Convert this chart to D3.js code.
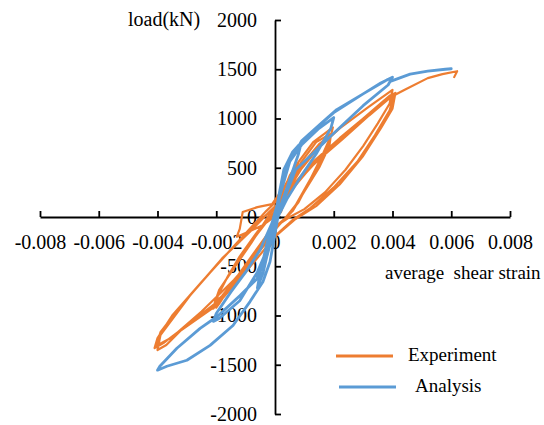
<!DOCTYPE html>
<html>
<head>
<meta charset="utf-8">
<script src="https://cdn.jsdelivr.net/npm/d3@7"></script>
<style>
  html, body { margin: 0; padding: 0; background: #fff; }
  svg text { font-family: "Liberation Serif", "Times New Roman", serif; fill: #000; }
</style>
</head>
<body>
<svg id="chart" width="544" height="425"></svg>
<script>
// Series names and colours
const seriesNames = ["Experiment", "Analysis"];
const seriesColors = ["#ED7D31", "#5B9BD5"];

// Axis ticks
const xTicks = [-0.008, -0.006, -0.004, -0.002, 0, 0.002, 0.004, 0.006, 0.008];
const yTicks = [-2000, -1500, -1000, -500, 0, 500, 1000, 1500, 2000];

// Experiment: load path [average shear strain, load kN]
const experimentCurve = [
  [0, 0], [0.0002, 200], [0.0005, 420], [0.0008, 560], [0.0007, 480], [0.0004, 230],
  [0.0002, 50], [-0.0004, -80], [-0.0009, -150], [-0.0013, -200], [-0.0012, -120],
  [-0.0011, 50], [-0.0006, 100], [-0.0001, 130],
  [0.0003, 300], [0.0008, 560], [0.0013, 760], [0.0017, 850], [0.00197, 910],
  [0.0019, 820], [0.0016, 620], [0.0012, 380], [0.0008, 150], [0.0004, 0],
  [-0.0002, -150], [-0.0008, -400], [-0.0014, -650], [-0.0019, -880], [-0.002, -920],
  [-0.00195, -800], [-0.0016, -600], [-0.0012, -400], [-0.0006, -150], [0, 50],
  [0.0004, 280], [0.0009, 560], [0.0014, 760], [0.00187, 840], [0.0018, 740],
  [0.0015, 540], [0.0011, 330], [0.0007, 120], [0.0003, -30], [-0.0003, -220],
  [-0.001, -520], [-0.0016, -760], [-0.0021, -930], [-0.0020, -820], [-0.0017, -650],
  [-0.0012, -420], [-0.0006, -170], [0, 60],
  [0.0005, 320], [0.001, 560], [0.0015, 740], [0.0019, 830], [0.00185, 720],
  [0.0015, 500], [0.001, 260], [0.0006, 60], [0.0002, -60], [-0.0005, -300],
  [-0.0012, -580], [-0.0018, -800], [-0.00205, -870], [-0.0019, -740], [-0.0014, -520],
  [-0.0008, -260], [-0.0002, 20],
  [0.0004, 250], [0.0009, 490], [0.0015, 710], [0.0022, 900], [0.0032, 1120], [0.0040, 1290],
  [0.0039, 1150], [0.0035, 950], [0.003, 720], [0.0024, 480], [0.0017, 250], [0.001, 80], [0.0005, 0],
  [0, -100], [-0.0007, -420], [-0.0013, -660], [-0.002, -900], [-0.0032, -1150], [-0.0037, -1300], [-0.004, -1350],
  [-0.0039, -1200], [-0.0029, -800], [-0.0018, -420], [-0.00085, -150], [-0.0002, 50],
  [0.0005, 250], [0.0012, 500], [0.002, 720], [0.003, 1000], [0.0039, 1230], [0.0041, 1260],
  [0.0040, 1100], [0.0036, 900], [0.003, 620], [0.0022, 330], [0.0014, 110], [0.0007, -20],
  [0, -200], [-0.001, -560], [-0.002, -870], [-0.003, -1100], [-0.0038, -1280], [-0.0041, -1330],
  [-0.004, -1230], [-0.0035, -1000], [-0.0025, -660], [-0.0015, -330], [-0.0006, -60], [0, 100],
  [0.0006, 300], [0.0014, 560], [0.0023, 790], [0.0032, 1030], [0.0038, 1180], [0.00405, 1240],
  [0.0039, 1080], [0.0034, 830], [0.0028, 560], [0.002, 300], [0.0012, 90], [0.0006, -30],
  [-0.0004, -300], [-0.0014, -640], [-0.0025, -960], [-0.0035, -1220], [-0.00405, -1310],
  [-0.0039, -1170], [-0.0032, -900], [-0.0022, -560], [-0.0012, -230], [-0.0003, 60],
  [0.0006, 320], [0.0013, 560], [0.0022, 800], [0.003, 1000], [0.0037, 1180], [0.0044, 1290],
  [0.0052, 1410], [0.0057, 1450], [0.0062, 1480], [0.0061, 1420]
];

// Analysis: load path [average shear strain, load kN]
const analysisCurve = [
  [0, 0], [0.00015, 250], [0.0003, 480], [0.0006, 660], [0.0009, 760],
  [0.0008, 640], [0.0005, 380], [0.0002, 120], [0, -50], [-0.0002, -300],
  [-0.0004, -560], [-0.0006, -720], [-0.0005, -560], [-0.0003, -300], [-0.0001, -60], [0.0001, 150],
  [0.0004, 520], [0.0009, 730], [0.0015, 900], [0.002, 1010],
  [0.0019, 900], [0.0014, 640], [0.0009, 420], [0.0004, 180], [0.0001, 0],
  [-0.0002, -280], [-0.0006, -560], [-0.0012, -850], [-0.0019, -1030], [-0.0021, -1060],
  [-0.002, -980], [-0.0015, -760], [-0.001, -560], [-0.0005, -330], [-0.0001, -60],
  [0.0002, 250], [0.0005, 560], [0.0009, 770], [0.0016, 960], [0.0021, 1090],
  [0.003, 1250], [0.0036, 1360], [0.004, 1420],
  [0.00385, 1340], [0.003, 1130], [0.002, 850], [0.0012, 620], [0.0007, 480], [0.0004, 250], [0.0001, 0],
  [-0.00017, -455], [-0.00041, -657], [-0.00085, -859], [-0.00143, -1101], [-0.00221, -1303],
  [-0.003, -1454], [-0.00368, -1515], [-0.004, -1555],
  [-0.00392, -1515], [-0.00334, -1333], [-0.00255, -1131], [-0.00197, -1010], [-0.00119, -798],
  [-0.00061, -626], [-0.00027, -394], [-0.00007, -172], [0.0001, 100],
  [0.0003, 480], [0.0006, 650], [0.0012, 850], [0.002, 1060], [0.003, 1250], [0.0038, 1390],
  [0.0040, 1420], [0.00395, 1380], [0.0046, 1450], [0.0052, 1480], [0.0058, 1500], [0.006, 1505]
];

const svg = d3.select("#chart");

const x = d3.scaleLinear().domain([-0.008, 0.008]).range([40, 510]);
const y = d3.scaleLinear().domain([-2000, 2000]).range([414, 20]);

// Axes crossing at the origin
const fmtX = d => d === 0 ? "0" : d3.format(".3f")(d).replace("−", "-");
const xAxis = d3.axisBottom(x).tickValues(xTicks).tickFormat(fmtX)
  .tickSizeInner(-6).tickSizeOuter(0).tickPadding(18);
const yAxis = d3.axisLeft(y).tickValues(yTicks).tickFormat(d => String(d))
  .tickSizeInner(-6).tickSizeOuter(0).tickPadding(18);

const gx = svg.append("g").attr("transform", `translate(0,${y(0)})`).call(xAxis);
const gy = svg.append("g").attr("transform", `translate(${x(0)},0)`).call(yAxis);

[gx, gy].forEach(g => {
  g.selectAll("path, line").attr("stroke", "#000").attr("stroke-width", 1.8);
  g.selectAll("text").attr("font-size", 20).attr("fill", "#000")
    .attr("font-family", '"Liberation Serif", "Times New Roman", serif');
});
gy.selectAll("text").attr("dy", "0.32em");

// Axis titles
svg.append("text").attr("x", 128).attr("y", 26).attr("font-size", 20).text("load(kN)");
svg.append("text").attr("x", 385).attr("y", 279).attr("font-size", 19)
  .attr("xml:space", "preserve").text("average  shear strain");

// Curves
const line = d3.line().x(d => x(d[0])).y(d => y(d[1])).curve(d3.curveLinear);
const widths = [2.2, 2.8];
[experimentCurve, analysisCurve].forEach((data, i) => {
  svg.append("path").datum(data)
    .attr("d", line)
    .attr("fill", "none")
    .attr("stroke", seriesColors[i])
    .attr("stroke-width", widths[i])
    .attr("stroke-linejoin", "round")
    .attr("stroke-linecap", "round");
});

// Legend
const legendRows = [
  { x1: 336, x2: 393, y: 356, tx: 408 },
  { x1: 339, x2: 396, y: 387, tx: 415 }
];
legendRows.forEach((r, i) => {
  svg.append("line").attr("x1", r.x1).attr("x2", r.x2).attr("y1", r.y).attr("y2", r.y)
    .attr("stroke", seriesColors[i]).attr("stroke-width", 3);
  svg.append("text").attr("x", r.tx).attr("y", r.y + 5).attr("font-size", 19).text(seriesNames[i]);
});
</script>
</body>
</html>
